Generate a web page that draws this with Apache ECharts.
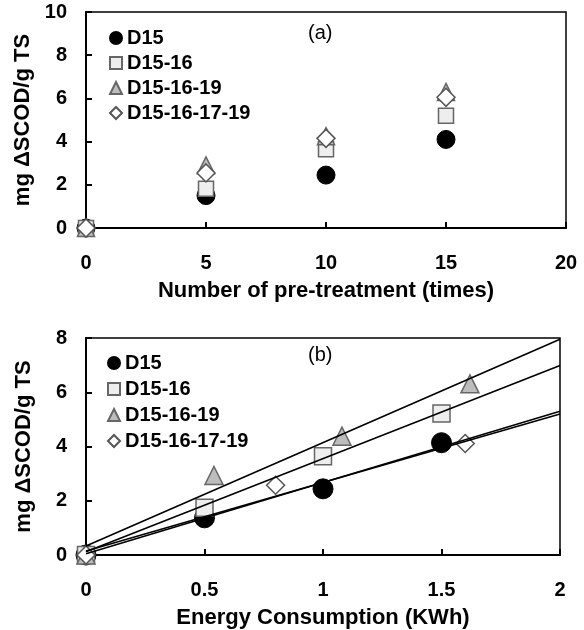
<!DOCTYPE html>
<html>
<head>
<meta charset="utf-8">
<script src="https://cdn.jsdelivr.net/npm/echarts@6/dist/echarts.min.js"></script>
<style>
  html, body { margin: 0; padding: 0; background: #fff; }
  #chart { width: 584px; height: 630px; }
</style>
</head>
<body>
<div id="chart"></div>
<script>
// series names (legend)
const seriesNames = ["D15", "D15-16", "D15-16-19", "D15-16-17-19"];

// (a) number of pre-treatment vs mg dSCOD/g TS
const timesX = [0, 5, 10, 15];
const d15A = [0, 1.5, 2.45, 4.1];
const d1516A = [0, 1.82, 3.65, 5.2];
const d151619A = [0, 2.9, 4.25, 6.3];
const d15161719A = [0, 2.55, 4.15, 6.05];

// (b) energy consumption vs mg dSCOD/g TS
const d15E = [0, 0.5, 1.0, 1.5];
const d15B = [0, 1.37, 2.44, 4.14];
const d1516E = [0, 0.5, 1.0, 1.5];
const d1516B = [0, 1.74, 3.64, 5.22];
const d151619E = [0, 0.54, 1.08, 1.62];
const d151619B = [0, 2.93, 4.38, 6.31];
const d15161719E = [0, 0.8, 1.6];
const d15161719B = [0, 2.57, 4.11];

// trend lines (b), read at x = 0 and x = 2
const fitX = [0, 2];
const fitD15 = [0.05, 5.3];
const fitD1516 = [0.12, 6.99];
const fitD151619 = [0.33, 7.95];
const fitD15161719 = [0.15, 5.2];

const FONT = "Liberation Sans";

// marker look per series
const markers = [
    { symbol: "circle", sizeA: 18, sizeB: 20, style: { color: "#000", borderColor: "#000", borderWidth: 1, opacity: 1 } },
    { symbol: "rect", sizeA: 15, sizeB: 17, style: { color: "#eeeeee", borderColor: "#666", borderWidth: 1.5, opacity: 1 } },
    { symbol: "triangle", sizeA: 17, sizeB: 18, style: { color: "#bdbdbd", borderColor: "#666", borderWidth: 1.5, opacity: 1 } },
    { symbol: "diamond", sizeA: 18, sizeB: 18, style: { color: "#fff", borderColor: "#555", borderWidth: 1.5, opacity: 1 } }
];

const zip = (xs, ys) => xs.map((x, i) => [x, ys[i]]);

const dataA = [d15A, d1516A, d151619A, d15161719A].map(ys => zip(timesX, ys));
const dataB = [
    zip(d15E, d15B),
    zip(d1516E, d1516B),
    zip(d151619E, d151619B),
    zip(d15161719E, d15161719B)
];
const fits = [fitD15, fitD1516, fitD151619, fitD15161719];

const tickLabel = { color: "#000", fontFamily: FONT, fontWeight: "bold", fontSize: 20 };
const axisTitle = { color: "#000", fontFamily: FONT, fontWeight: "bold", fontSize: 22 };

function xAxisOf(gridIndex, max, interval, name) {
    return {
        gridIndex, type: "value", min: 0, max, interval, name,
        nameLocation: "middle", nameGap: 52, nameTextStyle: axisTitle,
        axisLine: { show: true, onZero: false, lineStyle: { color: "#000", width: 2 } },
        axisTick: { show: true, inside: true, length: 6, lineStyle: { color: "#000", width: 2 } },
        axisLabel: Object.assign({ margin: 25 }, tickLabel),
        splitLine: { show: false }
    };
}

function yAxisOf(gridIndex, max) {
    return {
        gridIndex, type: "value", min: 0, max, interval: 2,
        name: "mg \u0394SCOD/g TS",
        nameLocation: "middle", nameGap: 51, nameRotate: 90, nameTextStyle: axisTitle,
        axisLine: { show: true, onZero: false, lineStyle: { color: "#000", width: 2 } },
        axisTick: { show: true, inside: true, length: 6, lineStyle: { color: "#000", width: 2 } },
        axisLabel: Object.assign({ margin: 19 }, tickLabel),
        splitLine: { show: false }
    };
}

const series = [];
markers.forEach((m, i) => {
    series.push({
        name: seriesNames[i], type: "scatter", xAxisIndex: 0, yAxisIndex: 0,
        symbol: m.symbol, symbolSize: m.sizeA, itemStyle: m.style,
        data: dataA[i], clip: false, z: 3
    });
});
markers.forEach((m, i) => {
    series.push({
        name: seriesNames[i], type: "scatter", xAxisIndex: 1, yAxisIndex: 1,
        symbol: m.symbol, symbolSize: m.sizeB, itemStyle: m.style,
        data: dataB[i], clip: false, z: 3
    });
});
fits.forEach((f, i) => {
    series.push({
        name: "fit " + seriesNames[i], type: "line", xAxisIndex: 1, yAxisIndex: 1,
        showSymbol: false, silent: true,
        lineStyle: { color: "#000", width: 1.6 },
        data: zip(fitX, f), z: 4
    });
});

const legendText = { color: "#000", fontFamily: FONT, fontWeight: "bold", fontSize: 20 };

const option = {
    backgroundColor: "#fff",
    animation: false,
    grid: [
        { left: 86, top: 12, width: 480, height: 216, show: true, borderColor: "#000", borderWidth: 1.5 },
        { left: 86, top: 338, width: 474, height: 217, show: true, borderColor: "#000", borderWidth: 1.5 }
    ],
    xAxis: [
        xAxisOf(0, 20, 5, "Number of pre-treatment (times)"),
        xAxisOf(1, 2, 0.5, "Energy Consumption (KWh)")
    ],
    yAxis: [yAxisOf(0, 10), yAxisOf(1, 8)],
    legend: [
        {
            data: seriesNames, orient: "vertical", left: 104, top: 23,
            itemWidth: 12, itemHeight: 12, itemGap: 5, textStyle: legendText,
            selectedMode: false
        },
        {
            data: seriesNames, orient: "vertical", left: 102, top: 348,
            itemWidth: 12, itemHeight: 12, itemGap: 6, textStyle: legendText,
            selectedMode: false
        }
    ],
    graphic: [
        { type: "text", left: 308, top: 23, style: { text: "(a)", fill: "#000", font: "20px " + FONT } },
        { type: "text", left: 308, top: 345, style: { text: "(b)", fill: "#000", font: "20px " + FONT } }
    ],
    series
};

const chart = echarts.init(document.getElementById("chart"), null, { renderer: "canvas" });
chart.setOption(option);
</script>
</body>
</html>
